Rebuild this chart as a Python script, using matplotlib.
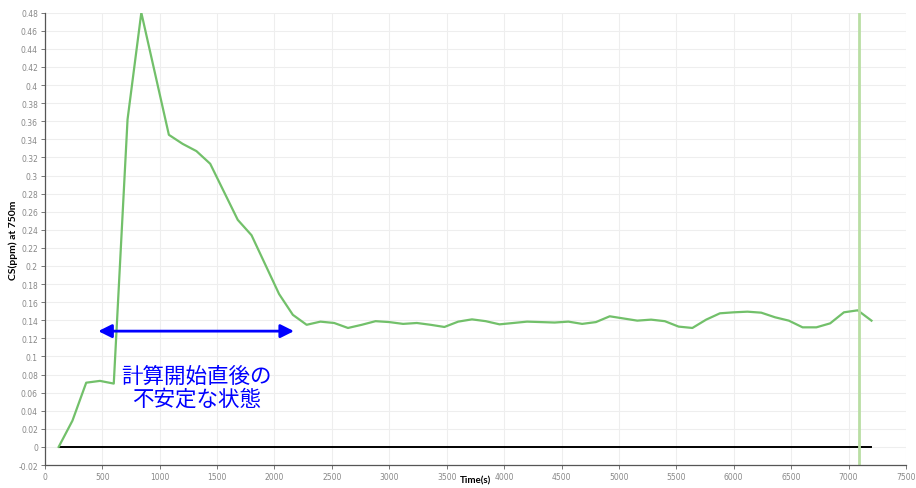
import numpy as np
import matplotlib
matplotlib.use('Agg')
import matplotlib.pyplot as plt
from matplotlib.ticker import FuncFormatter, MultipleLocator

# data
time_s = [120, 240, 360, 480, 600, 720, 840, 1080, 1200, 1320, 1440, 1680, 1800,
          2040, 2160, 2280, 2400, 2520, 2640, 2760, 2880, 3000, 3120, 3240, 3360,
          3480, 3600, 3720, 3840, 3960, 4080, 4200, 4320, 4440, 4560, 4680, 4800,
          4920, 5040, 5160, 5280, 5400, 5520, 5640, 5760, 5880, 6000, 6120, 6240,
          6360, 6480, 6600, 6720, 6840, 6960, 7080, 7200]
cs_ppm = [0.0, 0.029, 0.071, 0.073, 0.070, 0.362, 0.480, 0.345, 0.335, 0.327, 0.313,
          0.251, 0.234, 0.169, 0.146, 0.135, 0.1385, 0.137, 0.1315, 0.135, 0.139,
          0.138, 0.136, 0.137, 0.135, 0.1326, 0.1385, 0.141, 0.139, 0.1355, 0.137,
          0.1385, 0.138, 0.1375, 0.1385, 0.136, 0.138, 0.1444, 0.142, 0.1396, 0.1407,
          0.139, 0.133, 0.1315, 0.1407, 0.1477, 0.1488, 0.1495, 0.1484, 0.1433,
          0.1396, 0.1322, 0.1322, 0.1366, 0.1488, 0.151, 0.1396]
zero_line_t = [120, 7200]
marker_t = 7095
arrow_t = [465, 2170]
arrow_y = 0.128
note = '計算開始直後の\n不安定な状態'

fig = plt.figure(figsize=(9.16, 4.89), dpi=100)
ax = fig.add_axes([0.049, 0.047, 0.940, 0.925])

ax.grid(True, color='#eeeeee', linewidth=0.8)
ax.set_axisbelow(True)

ax.plot(zero_line_t, [0, 0], color='black', linewidth=1.4)
ax.plot(time_s, cs_ppm, color='#72c06a', linewidth=1.6)
ax.axvline(marker_t, color='#b9dea4', linewidth=2.0)

ax.annotate('', xy=(arrow_t[0], arrow_y), xytext=(arrow_t[1], arrow_y),
            arrowprops=dict(arrowstyle='<|-|>', color='#0000ff', lw=2,
                            mutation_scale=20, shrinkA=0, shrinkB=0))
ax.text(sum(arrow_t) / 2, 0.066, note, color='#0000ff', fontsize=15.5,
        ha='center', va='center', linespacing=1.05,
        family=['Noto Sans CJK JP', 'DejaVu Sans'])

ax.set_xlim(0, 7500)
ax.set_ylim(-0.02, 0.48)
ax.xaxis.set_major_locator(MultipleLocator(500))
ax.yaxis.set_major_locator(MultipleLocator(0.02))
ax.yaxis.set_major_formatter(FuncFormatter(lambda v, p: f'{round(v, 2):g}'))

for s in ['top', 'right']:
    ax.spines[s].set_visible(False)
for s in ['left', 'bottom']:
    ax.spines[s].set_color('#555555')
    ax.spines[s].set_linewidth(0.9)
ax.tick_params(labelsize=5.5, labelcolor='#888888', color='#777777',
               length=3, width=0.7, pad=2)

ax.set_xlabel('Time(s)', fontsize=7, fontweight='bold', family='Lato', va='center')
ax.set_ylabel('CS(ppm) at 750m', fontsize=7.5, fontweight='bold', family='Lato')
ax.xaxis.set_label_coords(0.5, -0.033)
ax.yaxis.set_label_coords(-0.031, 0.5)

fig.savefig('out.png', dpi=100)
